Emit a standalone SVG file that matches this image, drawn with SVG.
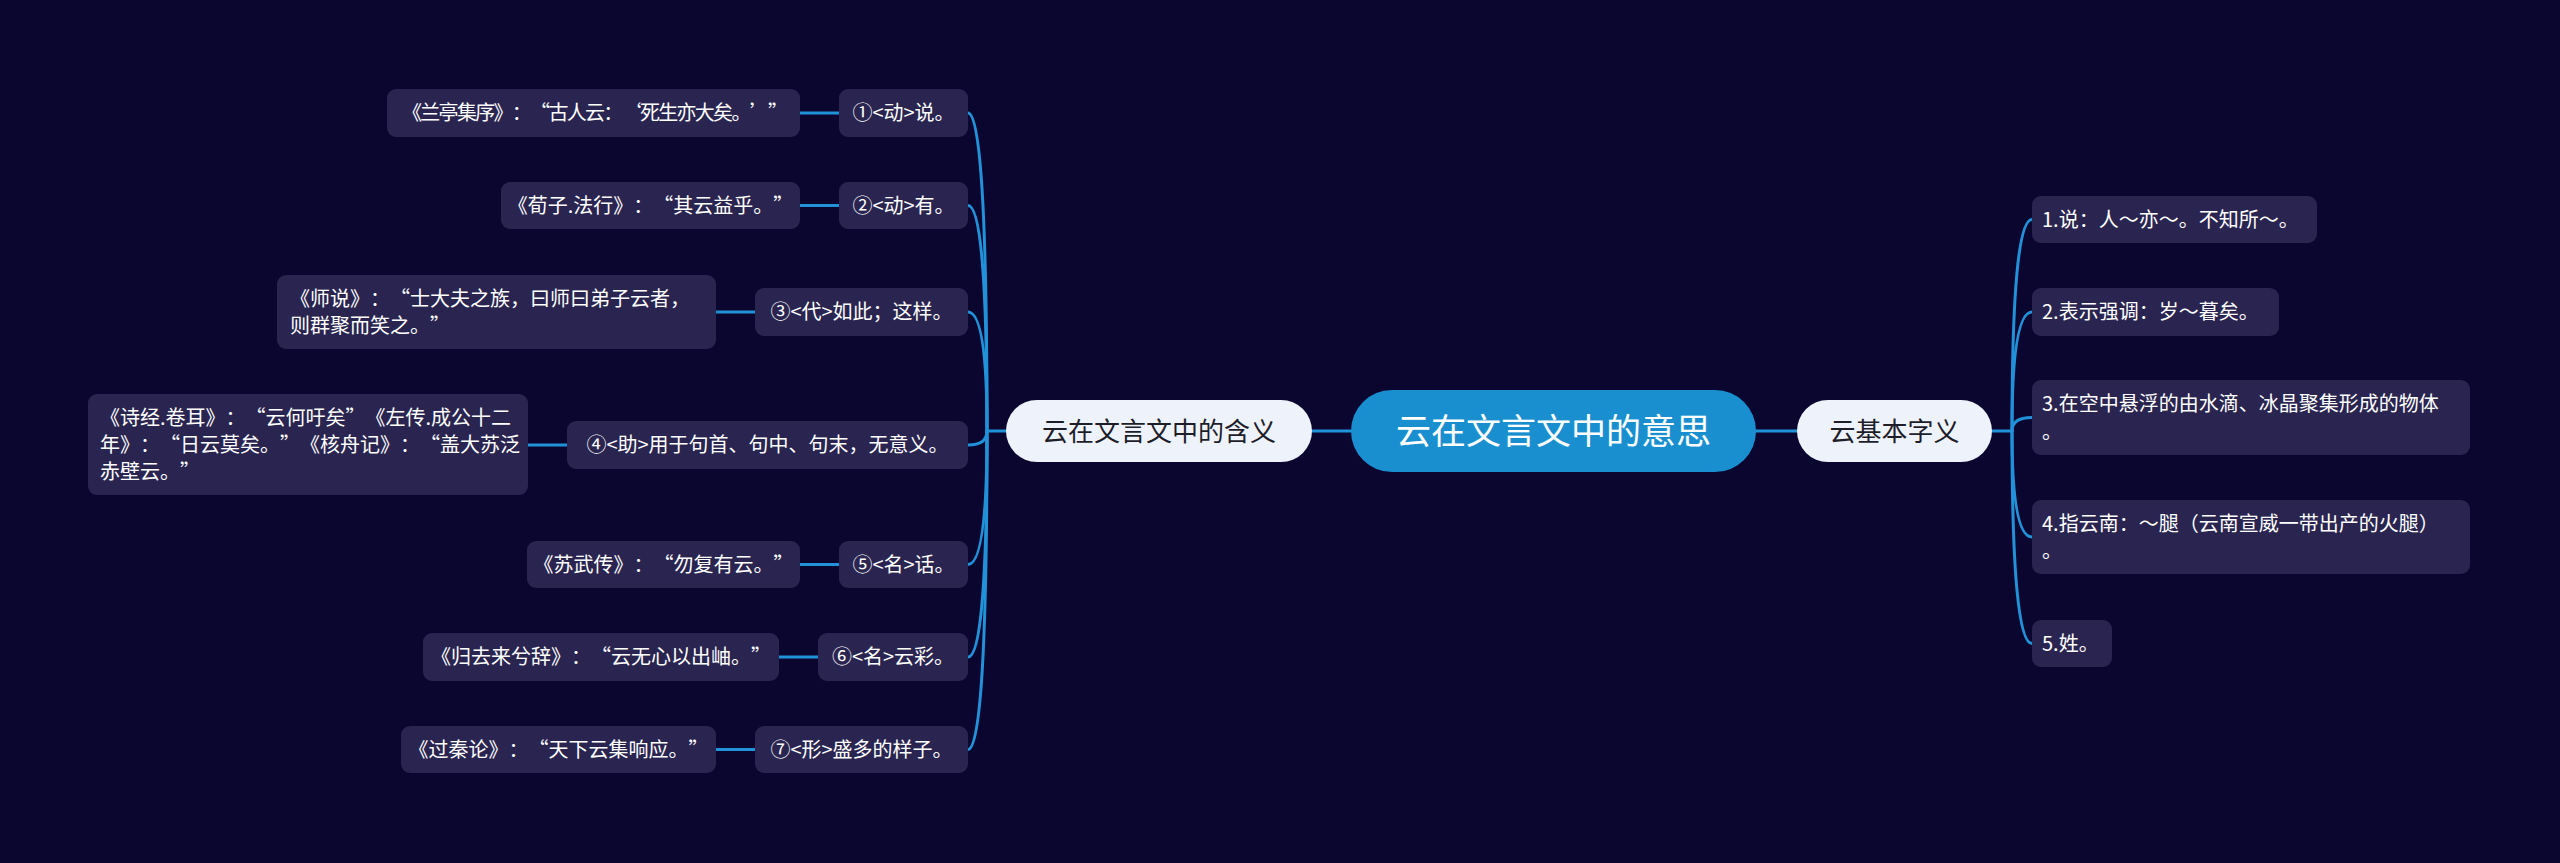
<svg xmlns="http://www.w3.org/2000/svg" width="2560" height="863" viewBox="0 0 2560 863">
<style>
.bg{fill:#0b0630}
.box{fill:#2a2550}
text{text-spacing-trim:space-all;font-feature-settings:"chws" 0,"halt" 0}
.t{font-family:"Noto Sans CJK SC","Noto Sans",sans-serif;font-size:20px;fill:#ffffff}
.m{text-anchor:middle}
.sub{fill:#eef3fb}
.subt{font-family:"Noto Sans CJK SC","Noto Sans",sans-serif;font-size:26px;fill:#1e1e2a;text-anchor:middle}
.root{fill:#1a8fd0}
.roott{font-family:"Noto Sans CJK SC","Noto Sans",sans-serif;font-size:35px;fill:#ffffff;text-anchor:middle}
.c{fill:none;stroke:#2191d8;stroke-width:3;stroke-linecap:round}
</style>
<rect class="bg" x="0" y="0" width="2560" height="863"/>
<g id="connectors">
<path class="c" d="M1312 431 H1351"/>
<path class="c" d="M1756 431 H1797"/>
<path class="c" d="M1006 431 H987"/>
<path class="c" d="M987 431 Q987 113 968 113"/>
<path class="c" d="M987 431 Q987 205.5 968 205.5"/>
<path class="c" d="M987 431 Q987 312 968 312"/>
<path class="c" d="M987 431 Q987 445 968 445"/>
<path class="c" d="M987 431 Q987 564.5 968 564.5"/>
<path class="c" d="M987 431 Q987 657 968 657"/>
<path class="c" d="M987 431 Q987 749.5 968 749.5"/>
<path class="c" d="M800 113 H839"/>
<path class="c" d="M800 205.5 H839"/>
<path class="c" d="M716 312 H755"/>
<path class="c" d="M528 445 H567"/>
<path class="c" d="M800 564.5 H839"/>
<path class="c" d="M779 657 H818"/>
<path class="c" d="M716 749.5 H755"/>
<path class="c" d="M1992 431 H2012"/>
<path class="c" d="M2012 431 Q2012 219.5 2032 219.5"/>
<path class="c" d="M2012 431 Q2012 312 2032 312"/>
<path class="c" d="M2012 431 Q2012 417.5 2032 417.5"/>
<path class="c" d="M2012 431 Q2012 537 2032 537"/>
<path class="c" d="M2012 431 Q2012 643.5 2032 643.5"/>
</g>
<g id="root">
<rect class="root" x="1351" y="390" width="405" height="82" rx="41"/>
<text class="roott" x="1553.5" y="444">云在文言文中的意思</text>
</g>
<g id="branch-left">
<rect class="sub" x="1006" y="400" width="306" height="62" rx="31"/>
<text class="subt" x="1159" y="441">云在文言文中的含义</text>
</g>
<g id="branch-right">
<rect class="sub" x="1797" y="400" width="195" height="62" rx="31"/>
<text class="subt" x="1894.5" y="441">云基本字义</text>
</g>
<g id="l1">
<rect class="box" x="839" y="89" width="129" height="48" rx="9"/>
<text class="t m" x="903.5" y="120">①&lt;动&gt;说。</text>
</g>
<g id="l1a">
<rect class="box" x="387" y="89" width="413" height="48" rx="9"/>
<text class="t m" x="595" y="120" textLength="386">《兰亭集序》：“古人云：‘死生亦大矣。’”</text>
</g>
<g id="l2">
<rect class="box" x="839" y="182" width="129" height="47" rx="9"/>
<text class="t m" x="903.5" y="212.5">②&lt;动&gt;有。</text>
</g>
<g id="l2a">
<rect class="box" x="501" y="182" width="299" height="47" rx="9"/>
<text class="t m" x="650.5" y="212.5">《荀子.法行》：“其云益乎。”</text>
</g>
<g id="l3">
<rect class="box" x="755" y="288" width="213" height="48" rx="9"/>
<text class="t m" x="861.5" y="319">③&lt;代&gt;如此；这样。</text>
</g>
<g id="l3a">
<rect class="box" x="277" y="275" width="439" height="74" rx="9"/>
<text class="t" x="290" y="305.5">《师说》：“士大夫之族，曰师曰弟子云者，</text>
<text class="t" x="290" y="332.5">则群聚而笑之。”</text>
</g>
<g id="l4">
<rect class="box" x="567" y="421" width="401" height="48" rx="9"/>
<text class="t m" x="767.5" y="452">④&lt;助&gt;用于句首、句中、句末，无意义。</text>
</g>
<g id="l4a">
<rect class="box" x="88" y="394" width="440" height="101" rx="9"/>
<text class="t" x="100" y="424.5">《诗经.卷耳》：“云何吁矣”《左传.成公十二</text>
<text class="t" x="100" y="451.5">年》：“日云莫矣。”《核舟记》：“盖大苏泛</text>
<text class="t" x="100" y="478.5">赤壁云。”</text>
</g>
<g id="l5">
<rect class="box" x="839" y="541" width="129" height="47" rx="9"/>
<text class="t m" x="903.5" y="571.5">⑤&lt;名&gt;话。</text>
</g>
<g id="l5a">
<rect class="box" x="527" y="541" width="273" height="47" rx="9"/>
<text class="t m" x="663.5" y="571.5">《苏武传》：“勿复有云。”</text>
</g>
<g id="l6">
<rect class="box" x="818" y="633" width="150" height="48" rx="9"/>
<text class="t m" x="893" y="664">⑥&lt;名&gt;云彩。</text>
</g>
<g id="l6a">
<rect class="box" x="423" y="633" width="356" height="48" rx="9"/>
<text class="t m" x="601" y="664">《归去来兮辞》：“云无心以出岫。”</text>
</g>
<g id="l7">
<rect class="box" x="755" y="726" width="213" height="47" rx="9"/>
<text class="t m" x="861.5" y="756.5">⑦&lt;形&gt;盛多的样子。</text>
</g>
<g id="l7a">
<rect class="box" x="401" y="726" width="315" height="47" rx="9"/>
<text class="t m" x="558.5" y="756.5">《过秦论》：“天下云集响应。”</text>
</g>
<g id="r1">
<rect class="box" x="2032" y="196" width="285" height="47" rx="9"/>
<text class="t" x="2042" y="226.5">1.说：人～亦～。不知所～。</text>
</g>
<g id="r2">
<rect class="box" x="2032" y="288" width="247" height="48" rx="9"/>
<text class="t" x="2042" y="319">2.表示强调：岁～暮矣。</text>
</g>
<g id="r3">
<rect class="box" x="2032" y="380" width="438" height="75" rx="9"/>
<text class="t" x="2042" y="411">3.在空中悬浮的由水滴、冰晶聚集形成的物体</text>
<text class="t" x="2042" y="438.5">。</text>
</g>
<g id="r4">
<rect class="box" x="2032" y="500" width="438" height="74" rx="9"/>
<text class="t" x="2042" y="530.5">4.指云南：～腿（云南宣威一带出产的火腿）</text>
<text class="t" x="2042" y="557.5">。</text>
</g>
<g id="r5">
<rect class="box" x="2032" y="620" width="80" height="47" rx="9"/>
<text class="t" x="2042" y="650.5">5.姓。</text>
</g>
</svg>
